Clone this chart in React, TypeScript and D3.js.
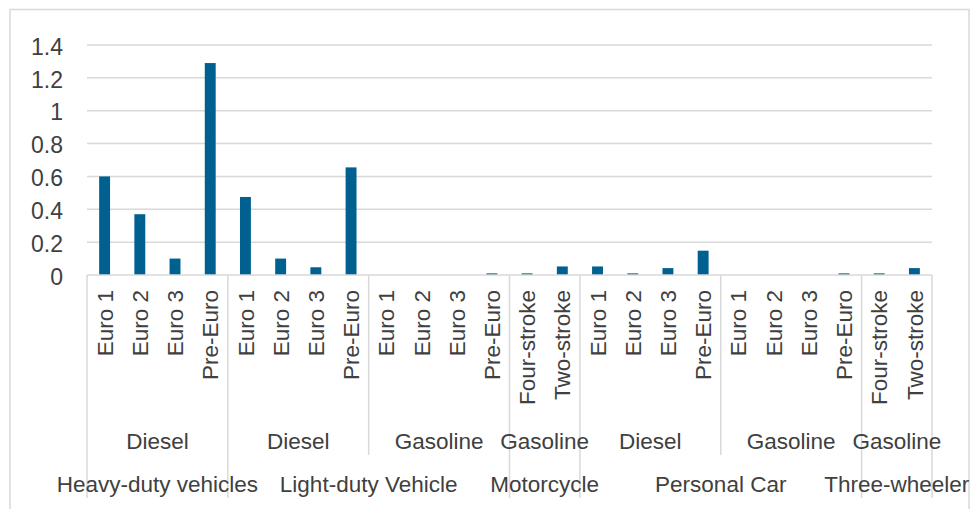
import React from "react";
import * as d3 from "d3";

const categories = [
  "Euro 1", "Euro 2", "Euro 3", "Pre-Euro",
  "Euro 1", "Euro 2", "Euro 3", "Pre-Euro",
  "Euro 1", "Euro 2", "Euro 3", "Pre-Euro",
  "Four-stroke", "Two-stroke",
  "Euro 1", "Euro 2", "Euro 3", "Pre-Euro",
  "Euro 1", "Euro 2", "Euro 3", "Pre-Euro",
  "Four-stroke", "Two-stroke",
];
const values = [
  0.60, 0.37, 0.10, 1.29,
  0.475, 0.10, 0.047, 0.655,
  0, 0, 0, 0.01,
  0.01, 0.052,
  0.052, 0.01, 0.042, 0.148,
  0, 0, 0, 0.01,
  0.01, 0.042,
];
const fuelNames = ["Diesel", "Diesel", "Gasoline", "Gasoline", "Diesel", "Gasoline", "Gasoline"];
const fuelCounts = [4, 4, 4, 2, 4, 4, 2];
const vehicleNames = ["Heavy-duty vehicles", "Light-duty Vehicle", "Motorcycle", "Personal Car", "Three-wheeler"];
const vehicleCounts = [4, 8, 2, 8, 2];
const yTicks = [0, 0.2, 0.4, 0.6, 0.8, 1, 1.2, 1.4];

const W = 976, H = 509;
const left = 87, right = 932, top = 45, base = 275;
const textColor = "#404040";
const gridColor = "#d9d9d9";
const barColor = "#00608f";
const font = "'Liberation Sans', Arial, sans-serif";

function spans(counts: number[]) {
  let s = 0;
  return counts.map((c) => {
    const r = { start: s, end: s + c };
    s += c;
    return r;
  });
}

export default function App() {
  const idx = categories.map((_, i) => i);
  const x = d3.scaleBand<number>().domain(idx).range([left, right]).paddingInner(0.69).paddingOuter(0.345);
  const step = (right - left) / categories.length;
  const bx = (i: number) => left + i * step;
  const y = d3.scaleLinear().domain([0, 1.4]).range([base, top]);
  const fuelSpans = spans(fuelCounts);
  const vehSpans = spans(vehicleCounts);
  const vehBounds = new Set<number>([0, ...vehSpans.map((s) => s.end)]);
  const fuelBounds = fuelSpans.map((s) => s.end).filter((b) => !vehBounds.has(b));

  return (
    <svg width={W} height={H} style={{ position: "absolute", left: 0, top: 0 }} fontFamily={font}>
      <rect x={0} y={0} width={W} height={H} fill="#fff" />
      <rect x={10} y={9.5} width={959} height={520} fill="none" stroke="#d9d9d9" strokeWidth={1.5} />
      {yTicks.map((t) => (
        <g key={t}>
          {t > 0 && <line x1={left} x2={right} y1={y(t)} y2={y(t)} stroke={gridColor} strokeWidth={1.5} />}
          <text x={63} y={y(t)} dy="0.42em" textAnchor="end" fontSize={23} fill={textColor}>
            {d3.format("~g")(t)}
          </text>
        </g>
      ))}
      {values.map((v, i) => (
        <rect key={i} x={x(i)} y={y(v)} width={x.bandwidth()} height={base - y(v)} fill={barColor} />
      ))}
      <line x1={left} x2={right} y1={base} y2={base} stroke={gridColor} strokeWidth={1.5} />
      {[...vehBounds].map((b) => (
        <line key={"v" + b} x1={bx(b)} x2={bx(b)} y1={base} y2={498} stroke={gridColor} strokeWidth={1.5} />
      ))}
      {fuelBounds.map((b) => (
        <line key={"f" + b} x1={bx(b)} x2={bx(b)} y1={base} y2={455} stroke={gridColor} strokeWidth={1.5} />
      ))}
      {categories.map((c, i) => {
        const cx = bx(i) + step / 2;
        return (
          <text key={i} transform={`translate(${cx},290) rotate(-90)`} dy="0.36em" textAnchor="end" fontSize={22.5} fill={textColor}>
            {c}
          </text>
        );
      })}
      {fuelSpans.map((s, i) => (
        <text key={"fl" + i} x={bx((s.start + s.end) / 2)} y={449} textAnchor="middle" fontSize={22.5} fill={textColor}>
          {fuelNames[i]}
        </text>
      ))}
      {vehSpans.map((s, i) => (
        <text key={"vl" + i} x={bx((s.start + s.end) / 2)} y={492} textAnchor="middle" fontSize={22.5} fill={textColor}>
          {vehicleNames[i]}
        </text>
      ))}
    </svg>
  );
}
